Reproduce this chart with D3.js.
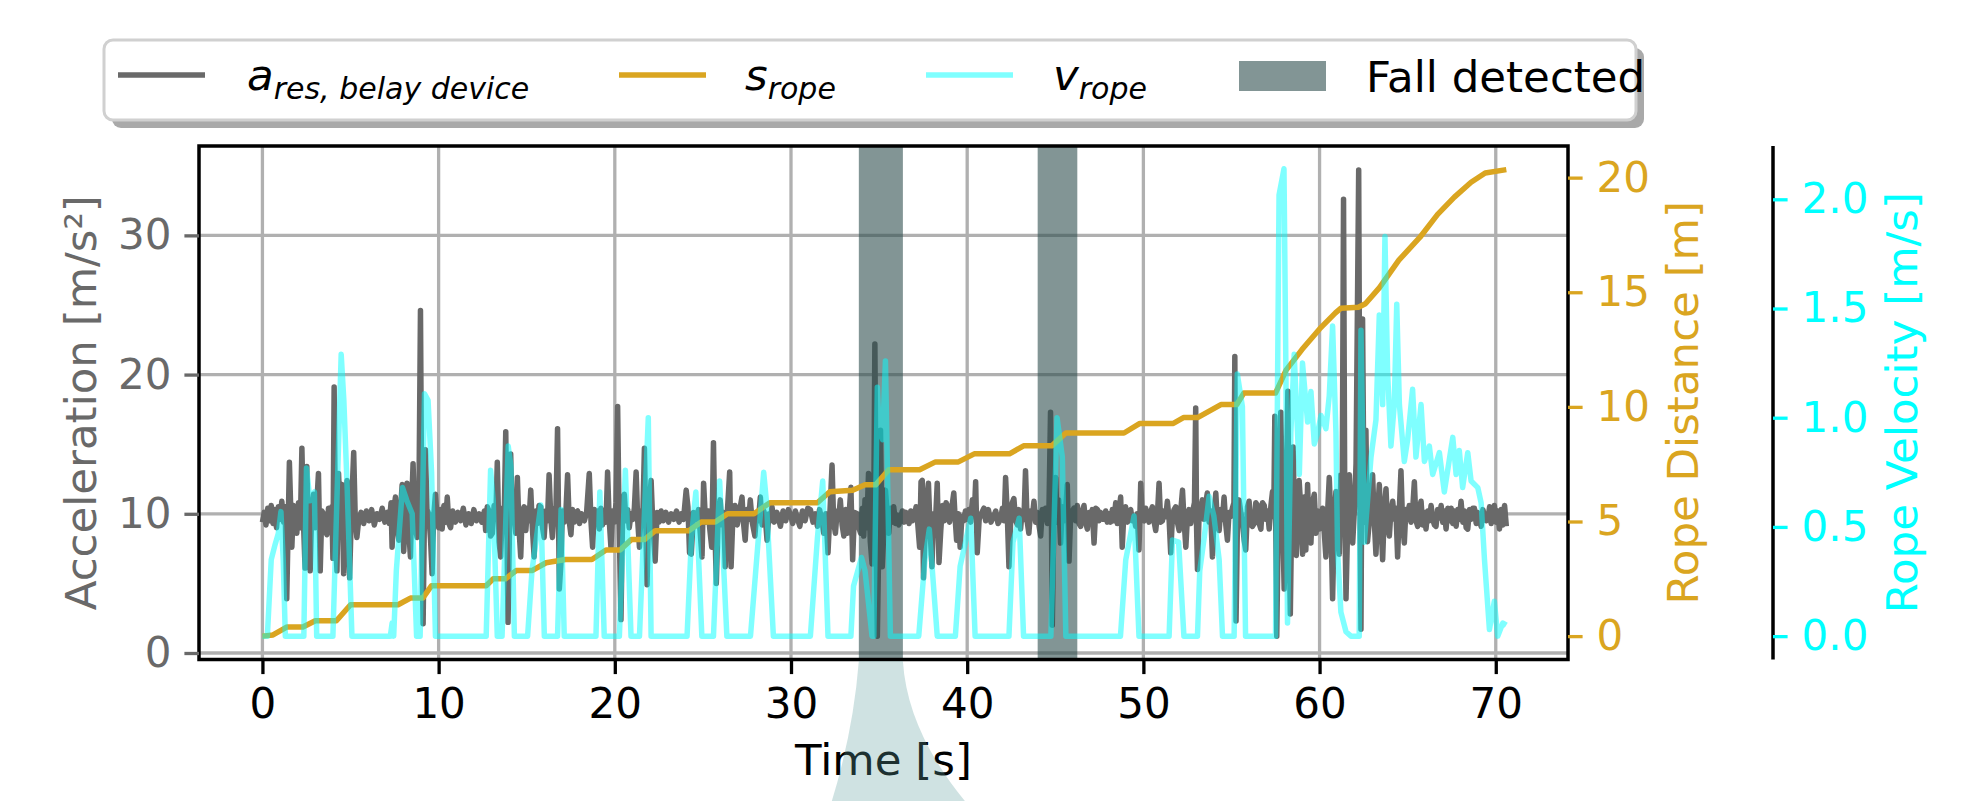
<!DOCTYPE html>
<html>
<head>
<meta charset="utf-8">
<script src="https://cdn.jsdelivr.net/npm/d3@7"></script>
<style>
  body { margin: 0; background: #fff; }
  svg { display: block; }
  text { font-family: "DejaVu Sans", sans-serif; }
</style>
</head>
<body>
<div id="chart"></div>
<script>
// tick labels
const timeTicks = [0, 10, 20, 30, 40, 50, 60, 70]
const accTicks = [0, 10, 20, 30]
const distTicks = [0, 5, 10, 15, 20]
const velTicks = [0, 0.5, 1.0, 1.5, 2.0]

// detected falls [start, end] in s
const fallWindows = [[33.85, 36.35], [44.0, 46.25]]

// resulting acceleration of the belay device [t, m/s²]
const accSeries = [
  [0,9.4],[0.1,10.1],[0.2,9.2],[0.3,10.4],[0.4,9.5],[0.5,10.6],[0.6,9.3],[0.7,10.3],[0.8,9.0],[0.9,10.5],[1.0,9.6],[1.1,10.9],[1.2,9.4],[1.29,10.5],
  [1.38,3.9],[1.53,13.7],[1.67,7.6],[1.76,10.6],[1.86,10.2],[1.95,8.6],[2.05,10.8],[2.15,9.0],[2.24,14.7],[2.33,9.4],[2.42,6.1],[2.52,13.4],[2.62,8.0],[2.71,5.9],[2.8,10.4],[2.9,11.4],[3.0,9.0],[3.08,10.6],[3.18,12.9],[3.28,5.9],[3.37,10.2],[3.47,10.0],[3.56,8.8],[3.66,8.5],[3.75,10.4],[3.84,9.6],[3.94,10.5],[4.0,6.8],[4.07,19.1],[4.15,8.0],[4.23,5.9],[4.32,12.9],[4.42,9.8],[4.51,12.1],[4.61,5.7],[4.7,10.4],[4.8,12.4],[4.88,8.8],[4.95,5.4],[5.05,10.2],[5.18,14.4],[5.27,9.6],[5.36,8.3],[5.46,9.5],
  [5.6,10.1],[5.75,9.3],[5.9,10.2],[6.05,9.5],[6.2,10.3],[6.35,9.2],[6.5,10.0],[6.65,9.6],[6.8,10.4],[6.95,9.4],[7.1,10.1],[7.2,9.3],
  [7.3,10.8],[7.36,7.6],[7.45,10.2],[7.55,11.2],[7.65,9.0],[7.74,8.1],[7.84,10.3],[7.93,12.1],[8.02,7.3],[8.12,10.0],[8.21,12.2],[8.3,8.9],[8.4,6.9],[8.48,11.0],[8.55,13.6],[8.65,9.2],[8.78,8.3],[8.88,10.6],[8.97,24.6],[9.05,8.0],[9.12,2.1],[9.19,9.5],[9.25,14.6],[9.34,10.3],[9.44,10.0],[9.54,8.2],[9.63,5.7],[9.72,9.8],[9.82,11.4],[9.92,9.6],[10.01,9.0],[10.1,10.3],[10.2,8.9],[10.3,10.6],[10.4,9.4],[10.49,11.2],[10.58,9.3],[10.68,9.0],[10.8,10.2],
  [10.95,9.4],[11.1,10.1],[11.25,9.5],[11.4,10.4],[11.55,9.2],[11.7,10.0],[11.85,9.3],[12.0,10.3],[12.15,9.5],[12.3,10.0],[12.45,9.4],[12.6,10.2],
  [12.67,8.8],[12.76,10.5],[12.86,10.2],[12.95,8.4],[13.05,8.6],[13.15,10.6],[13.25,9.8],[13.33,13.7],[13.43,8.0],[13.52,6.9],[13.62,10.4],[13.72,9.6],[13.81,15.9],[13.88,8.5],[13.94,2.2],[14.02,8.8],[14.09,14.3],[14.18,9.6],[14.28,10.0],[14.38,8.6],[14.47,12.6],[14.56,9.0],[14.66,6.9],[14.75,10.2],[14.85,10.5],[14.95,8.8],[15.04,10.4],[15.13,9.5],[15.23,11.7],[15.32,9.0],[15.42,6.9],[15.52,10.2],[15.61,9.3],[15.7,10.6],[15.8,10.5],[15.9,9.0],[15.99,8.3],[16.08,10.2],[16.18,9.5],[16.27,12.8],[16.37,9.6],[16.46,8.3],[16.56,10.4],[16.65,9.6],[16.75,16.1],[16.85,4.6],[16.94,6.4],[17.03,10.2],[17.13,9.4],[17.22,10.0],[17.32,12.8],[17.41,9.5],[17.51,8.5],[17.6,10.3],[17.7,9.4],[17.8,10.1],[17.89,10.2],[18.0,9.3],[18.1,10.0],[18.2,9.6],[18.27,9.5],[18.4,10.1],[18.55,12.9],[18.65,9.4],[18.74,7.6],[18.84,10.3],[18.93,9.8],[19.02,10.2],[19.12,8.9],[19.21,10.4],[19.3,9.2],[19.4,10.0],[19.5,9.4],[19.59,13.0],[19.68,9.6],[19.78,7.6],[19.88,10.2],[19.97,9.4],[20.07,10.8],[20.16,17.7],[20.25,9.0],[20.35,2.4],[20.44,9.8],[20.54,11.4],[20.63,9.5],[20.73,10.3],[20.82,9.0],[20.92,10.0],[21.02,9.6],[21.11,10.4],[21.21,13.0],[21.3,9.5],[21.4,7.6],[21.49,10.2],[21.59,9.8],[21.68,14.7],[21.76,9.0],[21.83,4.9],[21.92,10.0],[22.06,12.4],[22.15,9.5],[22.29,6.6],[22.4,10.1],[22.5,9.4],[22.63,10.2],[22.75,9.5],[22.9,10.1],[23.05,9.4],[23.2,10.0],[23.35,9.6],[23.5,10.2],[23.65,9.4],[23.77,10.0],[23.9,9.6],[24.05,11.7],[24.15,10.5],[24.24,7.2],[24.34,7.1],[24.47,10.1],
  [24.6,9.6],[24.75,10.3],[24.95,6.9],[25.04,12.2],[25.15,9.4],[25.3,10.2],[25.4,8.8],[25.5,7.6],[25.6,15.1],[25.68,9.0],[25.76,5.0],[25.87,9.8],[25.98,11.0],[26.08,9.2],[26.18,10.1],[26.27,6.2],[26.4,10.4],[26.52,13.0],[26.6,6.2],[26.7,9.8],[26.82,10.6],[26.95,9.2],[27.08,10.2],[27.22,11.2],[27.3,9.4],[27.4,8.1],[27.5,10.3],[27.6,9.6],[27.69,11.0],[27.8,9.4],[27.95,8.4],[28.05,10.1],[28.15,9.5],[28.26,11.2],[28.36,9.2],[28.46,10.2],[28.55,9.6],[28.64,8.1],[28.75,10.0],[28.84,9.5],[28.92,10.5],[29.05,9.4],[29.2,10.1],[29.4,9.1],[29.55,10.2],[29.7,9.5],[29.85,10.3],[29.96,10.0],[30.1,9.3],[30.25,10.2],[30.38,9.6],[30.5,9.1],[30.65,10.2],[30.8,9.5],[30.95,10.4],[31.1,10.3],[31.25,9.4],[31.38,10.0],[31.5,9.1],[31.62,10.3],[31.74,9.6],[31.86,8.6],[31.98,10.0],[32.1,7.2],[32.22,10.4],[32.33,13.5],[32.42,9.4],[32.52,8.6],[32.62,10.2],[32.7,9.6],[32.8,11.0],[32.9,9.2],[33.0,8.4],[33.1,10.3],[33.2,8.6],[33.3,10.0],[33.4,11.9],[33.5,6.7],[33.6,10.1],[33.75,10.0],[33.85,9.0],[33.95,8.6],[34.05,10.4],[34.13,8.4],[34.2,11.0],[34.3,9.0],[34.4,12.9],[34.5,8.0],[34.6,6.4],[34.7,10.5],[34.76,22.2],[34.84,8.0],[34.9,1.2],[35.0,9.5],[35.08,16.0],[35.18,6.2],[35.26,8.5],[35.36,11.7],[35.45,10.2],[35.55,8.6],[35.64,10.4],[35.73,9.4],[35.83,10.5],[35.93,9.3],[36.02,9.9],[36.12,9.2],[36.2,9.6],[36.32,10.2],[36.42,9.4],[36.52,10.1],[36.6,10.0],[36.7,9.3],[36.8,10.2],[36.9,9.5],[37.0,9.8],[37.1,10.5],[37.2,9.2],[37.3,7.6],[37.38,12.3],[37.45,12.4],[37.52,5.4],[37.6,8.1],[37.7,11.0],[37.8,12.2],[37.91,8.4],[38.0,6.2],[38.1,10.0],[38.2,9.4],[38.3,12.2],[38.4,6.5],[38.5,8.8],[38.6,10.6],[38.7,9.5],[38.8,10.8],[38.9,10.5],[39.0,9.4],[39.1,10.2],[39.24,11.5],[39.32,9.6],[39.4,8.1],[39.5,10.0],[39.6,7.6],[39.7,9.8],[39.8,9.5],[39.9,10.2],[40.0,9.6],[40.1,10.3],[40.2,9.4],[40.29,11.0],[40.4,9.8],[40.48,12.3],[40.57,7.2],[40.68,9.6],[40.8,10.0],[40.95,10.4],[41.05,9.5],[41.2,10.3],[41.35,9.4],[41.5,9.8],[41.62,10.2],[41.75,9.3],[41.89,9.6],[42.0,10.4],[42.1,9.5],[42.18,12.6],[42.28,9.8],[42.37,6.2],[42.47,9.6],[42.56,10.8],[42.65,11.1],[42.75,9.5],[42.85,9.2],[42.94,10.3],[43.03,8.9],[43.12,10.2],[43.22,9.6],[43.31,13.1],[43.4,9.5],[43.5,8.6],[43.6,10.2],[43.7,9.8],[43.79,10.9],[43.88,9.4],[43.98,10.1],[44.07,9.2],[44.17,8.4],[44.26,10.3],[44.36,9.6],[44.45,10.4],[44.55,9.3],[44.64,10.2],[44.73,17.3],[44.8,6.8],[44.83,2.0],[44.92,9.8],[45.02,12.6],[45.11,9.4],[45.2,11.0],[45.3,7.9],[45.4,10.5],[45.5,9.5],[45.6,10.4],[45.68,12.1],[45.78,6.6],[45.87,9.8],[45.97,10.2],[46.06,10.4],[46.16,9.5],[46.25,10.6],[46.35,9.3],[46.44,9.1],[46.54,10.2],[46.63,10.6],[46.72,9.4],[46.82,8.9],[46.92,10.1],[47.01,9.6],[47.1,10.3],[47.2,7.9],[47.3,10.4],[47.39,10.3],[47.48,9.5],[47.57,10.1],[47.67,9.6],[47.76,9.6],[47.86,10.2],[47.95,9.4],[48.05,10.0],[48.14,9.4],[48.24,10.3],[48.33,9.5],[48.43,10.8],[48.52,9.3],[48.62,10.2],[48.71,11.2],[48.8,7.6],[48.9,10.2],[48.99,10.5],[49.1,9.4],[49.2,10.2],[49.28,10.3],[49.37,9.5],[49.47,9.8],[49.56,9.1],[49.65,10.0],[49.75,7.4],[49.85,12.2],[49.94,9.6],[50.04,9.5],[50.13,10.4],[50.22,10.0],[50.32,9.4],[50.41,10.1],[50.51,10.5],[50.6,9.5],[50.7,8.8],[50.8,10.0],[50.89,12.2],[50.98,9.4],[51.08,9.5],[51.17,10.2],[51.27,9.8],[51.36,10.9],[51.46,9.6],[51.55,7.2],[51.65,9.8],[51.74,10.3],[51.84,10.5],[51.93,9.4],[52.03,8.8],[52.12,10.2],[52.22,11.7],[52.31,9.5],[52.41,7.6],[52.5,9.8],[52.59,10.3],[52.69,9.3],[52.8,10.2],[52.9,10.8],[52.97,17.6],[53.02,9.0],[53.07,6.0],[53.16,9.8],[53.25,10.4],[53.35,11.0],[53.44,9.6],[53.54,10.8],[53.63,11.5],[53.73,9.4],[53.82,10.2],[53.92,6.9],[54.01,9.8],[54.11,11.5],[54.2,9.4],[54.3,8.8],[54.39,10.3],[54.49,9.6],[54.58,11.2],[54.68,9.2],[54.77,8.1],[54.86,10.1],[54.96,9.8],[55.05,10.4],[55.14,10.8],[55.19,21.3],[55.23,9.0],[55.26,2.3],[55.34,9.6],[55.43,11.0],[55.53,10.1],[55.62,9.4],[55.72,8.1],[55.81,7.4],[55.91,10.5],[56.0,10.9],[56.1,9.2],[56.19,9.1],[56.29,9.3],[56.38,10.8],[56.48,10.6],[56.57,9.3],[56.67,8.9],[56.76,10.8],[56.86,10.6],[56.95,9.6],[57.05,10.2],[57.14,8.9],[57.24,10.6],[57.33,11.6],[57.4,9.8],[57.46,17.0],[57.52,8.0],[57.57,1.2],[57.66,9.6],[57.8,17.3],[57.9,10.0],[57.99,4.6],[58.09,9.2],[58.2,18.8],[58.27,8.6],[58.34,2.8],[58.42,10.2],[58.5,14.8],[58.6,8.0],[58.68,7.0],[58.75,9.4],[58.84,12.4],[58.94,10.3],[59.04,7.1],[59.13,11.2],[59.22,7.4],[59.32,12.1],[59.42,8.2],[59.51,7.9],[59.6,10.8],[59.7,11.4],[59.8,8.6],[59.89,10.2],[59.98,8.9],[60.08,9.8],[60.17,10.4],[60.27,8.6],[60.36,6.9],[60.46,10.2],[60.55,12.6],[60.64,9.6],[60.74,3.9],[60.84,10.0],[60.93,11.6],[61.02,9.5],[61.12,7.1],[61.21,12.8],[61.28,10.0],[61.36,32.6],[61.43,10.4],[61.5,3.9],[61.6,9.5],[61.69,12.8],[61.79,9.6],[61.88,7.9],[61.98,10.4],[62.07,13.6],[62.22,34.7],[62.3,9.0],[62.35,1.7],[62.44,24.0],[62.53,9.4],[62.63,16.0],[62.72,8.0],[62.82,9.4],[62.92,10.6],[63.01,12.8],[63.1,9.6],[63.2,7.1],[63.3,10.2],[63.39,12.1],[63.48,9.4],[63.58,6.7],[63.68,10.4],[63.77,11.8],[63.86,9.2],[63.96,8.4],[64.05,10.2],[64.15,10.9],[64.24,9.6],[64.33,10.4],[64.43,6.9],[64.52,10.1],[64.62,13.1],[64.71,9.4],[64.81,7.9],[64.9,10.3],[65.0,9.6],[65.09,10.6],[65.19,9.4],[65.28,10.2],[65.38,12.3],[65.47,9.5],[65.57,9.1],[65.66,10.4],[65.76,10.9],[65.85,9.2],[65.95,10.1],[66.04,8.9],[66.14,10.2],[66.23,9.5],[66.33,10.6],[66.42,9.6],[66.52,9.2],[66.61,9.1],[66.7,10.3],[66.8,9.7],[66.9,10.6],[66.99,9.4],[67.08,10.2],[67.18,8.9],[67.28,10.4],[67.37,9.5],[67.47,10.4],[67.56,9.3],[67.66,10.2],[67.75,9.1],[67.85,10.3],[67.94,9.6],[68.03,10.9],[68.13,9.4],[68.22,10.2],[68.32,9.0],[68.41,8.9],[68.51,10.3],[68.6,9.6],[68.7,10.4],[68.79,10.4],[68.89,9.3],[68.98,10.1],[69.08,9.6],[69.17,9.1],[69.27,10.3],[69.36,9.8],[69.46,9.5],[69.55,9.6],[69.65,10.5],[69.74,9.3],[69.84,10.1],[69.92,10.6],[70.02,9.4],[70.11,10.2],[70.21,8.9],[70.3,10.3],[70.4,9.2],[70.5,10.6],[70.6,9.1]
]

// rope distance [t, m]
const ropeDistSeries = [
  [0,0],[0.6,0.05],[1.4,0.4],[2.3,0.4],[3.0,0.67],[4.2,0.67],[5.0,1.37],[7.7,1.37],[8.4,1.66],[9.1,1.66],[9.6,2.2],
  [12.7,2.2],[13.1,2.5],[13.8,2.5],[14.4,2.86],[15.3,2.86],[16.1,3.2],[17.2,3.34],[18.7,3.34],[19.5,3.76],[20.3,3.76],
  [20.95,4.22],[21.7,4.22],[22.3,4.6],[24.2,4.6],[24.9,4.98],[25.7,4.98],[26.4,5.34],[27.9,5.34],[28.8,5.82],[31.5,5.82],
  [32.2,6.3],[33.5,6.36],[34.2,6.6],[34.8,6.6],[35.55,7.26],[37.3,7.26],[38.2,7.6],[39.5,7.6],[40.4,7.95],[42.4,7.95],
  [43.2,8.3],[44.8,8.3],[45.6,8.86],[48.9,8.86],[49.8,9.28],[51.7,9.28],[52.3,9.54],[53.1,9.54],[54.4,10.1],[55.3,10.1],
  [55.7,10.6],[57.5,10.6],[58.1,11.6],[59.0,12.5],[60.0,13.4],[60.9,14.1],[61.2,14.3],[62.2,14.35],[62.6,14.5],[63.4,15.2],
  [64.5,16.4],[65.7,17.4],[66.7,18.4],[67.65,19.15],[68.6,19.8],[69.4,20.2],[70.6,20.35]
]

// rope velocity [t, m/s]
const ropeVelSeries = [
  [0,0],[0.28,0],[0.5,0.35],[0.72,0.42],[0.9,0.47],[1.05,0.57],[1.18,0.35],[1.3,0],
  [2.35,0],[2.5,0.77],[2.7,0.62],[2.95,0.66],[3.08,0],
  [4.0,0],[4.2,0.55],[4.47,1.29],[4.62,1.08],[4.8,0.7],[5.08,0],
  [7.26,0],[7.36,0.06],[7.45,0],[7.6,0.3],[7.95,0.68],[8.2,0.62],[8.5,0.56],[8.75,0],
  [8.95,0],[9.2,1.11],[9.4,1.08],[9.6,0.75],[9.82,0],
  [12.7,0],[12.95,0.76],[13.1,0.62],[13.33,0],
  [13.6,0],[13.95,0.87],[14.1,0.78],[14.3,0],
  [15.05,0],[15.3,0.3],[15.55,0.45],[15.8,0.6],[16.0,0],
  [16.75,0],[16.95,0.58],[17.13,0],
  [18.93,0],[19.15,0.66],[19.4,0],
  [20.26,0],[20.6,0.76],[20.92,0],
  [21.4,0],[21.9,1.0],[22.06,0],
  [24.1,0],[24.35,0.45],[24.6,0.66],[24.94,0],
  [25.6,0],[25.95,0.71],[26.36,0],
  [27.7,0],[28.1,0.4],[28.45,0.75],[28.6,0.62],[29.0,0],
  [31.1,0],[31.5,0.45],[31.8,0.71],[32.1,0],
  [33.4,0],[33.55,0.23],[34.0,0.36],[34.2,0.3],[34.6,0],
  [34.7,0],[34.9,1.14],[35.0,0.95],[35.2,0.9],[35.36,1.26],[35.64,0],
  [37.25,0],[37.6,0.35],[37.85,0.49],[38.3,0],
  [39.33,0],[39.6,0.32],[40.2,0.54],[40.45,0],
  [42.37,0],[42.6,0.43],[42.95,0.54],[43.2,0],
  [44.75,0],[45.1,1.0],[45.4,0.82],[45.6,0],
  [48.7,0],[49.0,0.35],[49.47,0.55],[49.75,0],
  [51.46,0],[51.65,0.44],[52.0,0.43],[52.3,0],
  [53.07,0],[53.2,0.3],[53.45,0.45],[53.73,0.64],[54.0,0.55],[54.3,0.35],[54.49,0],
  [55.15,0],[55.33,1.2],[55.62,1.05],[55.8,0],
  [57.5,0],[57.7,2.02],[57.98,2.14],[58.09,1.21],[58.18,0.06],[58.37,0.93],[58.56,1.29],[58.85,0.74],[59.03,1.25],[59.32,0.98],
  [59.51,1.12],[59.7,0.88],[59.89,0.93],[60.08,1.01],[60.36,0.95],[60.55,1.1],[60.74,1.42],[60.93,0.93],[61.02,0.39],[61.21,0.11],
  [61.5,0.02],[61.78,0],[62.25,0],[62.35,1.4],[62.54,0.43],[62.92,0.82],[63.2,0.99],[63.39,1.47],[63.58,1.06],[63.71,1.83],
  [63.86,1.21],[64.05,0.87],[64.24,1.06],[64.38,1.52],[64.53,1.06],[64.81,0.8],[65.0,0.9],[65.28,1.13],[65.47,0.82],[65.76,1.06],
  [65.95,0.8],[66.23,0.87],[66.42,0.74],[66.8,0.84],[67.08,0.66],[67.56,0.91],[67.75,0.74],[67.93,0.85],[68.12,0.68],[68.41,0.84],
  [68.6,0.71],[68.98,0.68],[69.17,0.61],[69.36,0.35],[69.64,0.03],[69.92,0.16],[70.11,0],[70.4,0.06],[70.6,0.05]
]

// colours
const accColor = "#696969"     // dimgray
const distColor = "#daa520"    // goldenrod
const velColor = "#00ffff"     // cyan
const fallColor = "#2f4f4f"    // darkslategray

const W = 1978, H = 801
const box = { left: 199, right: 1568, top: 146, bottom: 659.5 }
const velSpineX = 1773
const tickLen = 14.6, tickW = 3.3
const tickFont = 42, labelFont = 43.5

const svg = d3.select("#chart")
  .append("svg")
  .attr("width", W)
  .attr("height", H)

svg.append("rect").attr("width", W).attr("height", H).attr("fill", "#fff")

// scales
const x = d3.scaleLinear().domain([-3.6, 74.1]).range([box.left, box.right])
const yAcc = d3.scaleLinear().domain([-0.467, 36.42]).range([box.bottom, box.top])
const yDist = d3.scaleLinear().domain([-1.02, 21.38]).range([box.bottom, box.top])
const yVel = d3.scaleLinear().domain([-0.107, 2.244]).range([box.bottom, box.top])

svg.append("clipPath").attr("id", "plotClip")
  .append("rect")
  .attr("x", box.left).attr("y", box.top)
  .attr("width", box.right - box.left).attr("height", box.bottom - box.top)

// grid
const grid = svg.append("g").attr("stroke", "#b0b0b0").attr("stroke-width", 3.3)
grid.selectAll(".gx").data(timeTicks).enter().append("line")
  .attr("x1", d => x(d)).attr("x2", d => x(d))
  .attr("y1", box.top).attr("y2", box.bottom)
grid.selectAll(".gy").data(accTicks).enter().append("line")
  .attr("x1", box.left).attr("x2", box.right)
  .attr("y1", d => yAcc(d)).attr("y2", d => yAcc(d))

const plot = svg.append("g").attr("clip-path", "url(#plotClip)")

// acceleration
plot.append("path")
  .datum(accSeries)
  .attr("fill", "none")
  .attr("stroke", accColor)
  .attr("stroke-width", 5.5)
  .attr("stroke-linejoin", "round")
  .attr("d", d3.line().x(d => x(d[0])).y(d => yAcc(d[1])))

// fall windows
plot.selectAll(".fall").data(fallWindows).enter().append("rect")
  .attr("x", d => x(d[0]))
  .attr("width", d => x(d[1]) - x(d[0]))
  .attr("y", box.top)
  .attr("height", box.bottom - box.top)
  .attr("fill", fallColor)
  .attr("fill-opacity", 0.6)

// rope distance
plot.append("path")
  .datum(ropeDistSeries)
  .attr("fill", "none")
  .attr("stroke", distColor)
  .attr("stroke-width", 5.5)
  .attr("stroke-linejoin", "round")
  .attr("d", d3.line().x(d => x(d[0])).y(d => yDist(d[1])))

// rope velocity
plot.append("path")
  .datum(ropeVelSeries)
  .attr("fill", "none")
  .attr("stroke", velColor)
  .attr("stroke-opacity", 0.5)
  .attr("stroke-width", 5.5)
  .attr("stroke-linejoin", "round")
  .attr("d", d3.line().x(d => x(d[0])).y(d => yVel(d[1])))

// frame
svg.append("rect")
  .attr("x", box.left).attr("y", box.top)
  .attr("width", box.right - box.left).attr("height", box.bottom - box.top)
  .attr("fill", "none").attr("stroke", "#000").attr("stroke-width", 3.5)

svg.append("line")
  .attr("x1", velSpineX).attr("x2", velSpineX)
  .attr("y1", box.top).attr("y2", box.bottom)
  .attr("stroke", "#000").attr("stroke-width", 3.5)

// axes
const styleAxis = (g, color) => {
  g.select(".domain").remove()
  g.attr("font-family", "DejaVu Sans").attr("font-size", tickFont)
  g.selectAll(".tick line").attr("stroke", color).attr("stroke-width", tickW)
  g.selectAll(".tick text").attr("fill", color)
}

svg.append("g")
  .attr("transform", `translate(0, ${box.bottom})`)
  .call(d3.axisBottom(x).tickValues(timeTicks).tickSize(tickLen).tickPadding(14))
  .call(g => styleAxis(g, "#000"))

svg.append("g")
  .attr("transform", `translate(${box.left}, 0)`)
  .call(d3.axisLeft(yAcc).tickValues(accTicks).tickSize(tickLen).tickPadding(13))
  .call(g => styleAxis(g, accColor))

svg.append("g")
  .attr("transform", `translate(${box.right}, 0)`)
  .call(d3.axisRight(yDist).tickValues(distTicks).tickSize(tickLen).tickPadding(14))
  .call(g => styleAxis(g, distColor))

svg.append("g")
  .attr("transform", `translate(${velSpineX}, 0)`)
  .call(d3.axisRight(yVel).tickValues(velTicks).tickSize(tickLen).tickPadding(14).tickFormat(d3.format(".1f")))
  .call(g => styleAxis(g, velColor))

// axis labels
const midY = (box.top + box.bottom) / 2
svg.append("text")
  .attr("transform", `translate(96, ${midY}) rotate(-90)`)
  .attr("text-anchor", "middle").attr("font-size", labelFont).attr("fill", accColor)
  .text("Acceleration [m/s²]")

svg.append("text")
  .attr("transform", `translate(1698, ${midY}) rotate(-90)`)
  .attr("text-anchor", "middle").attr("font-size", labelFont).attr("fill", distColor)
  .text("Rope Distance [m]")

svg.append("text")
  .attr("transform", `translate(1917, ${midY}) rotate(-90)`)
  .attr("text-anchor", "middle").attr("font-size", labelFont).attr("fill", velColor)
  .text("Rope Velocity [m/s]")

svg.append("text")
  .attr("x", (box.left + box.right) / 2).attr("y", 775)
  .attr("text-anchor", "middle").attr("font-size", labelFont).attr("fill", "#000")
  .text("Time [s]")

// legend
const legend = svg.append("g")
legend.append("rect")
  .attr("x", 112).attr("y", 48).attr("width", 1532).attr("height", 80).attr("rx", 9)
  .attr("fill", "#a9a9a9")
legend.append("rect")
  .attr("x", 104).attr("y", 40).attr("width", 1532).attr("height", 80).attr("rx", 9)
  .attr("fill", "#fff").attr("stroke", "#d0d0d0").attr("stroke-width", 3)

const mathLabel = (xPos, main, sub) => {
  const t = legend.append("text")
    .attr("x", xPos).attr("y", 90)
    .attr("font-style", "italic").attr("fill", "#000")
  t.append("tspan").attr("font-size", labelFont).text(main)
  t.append("tspan").attr("font-size", 30).attr("dy", 9).text(sub)
}

legend.append("line").attr("x1", 118).attr("x2", 205).attr("y1", 75).attr("y2", 75)
  .attr("stroke", accColor).attr("stroke-width", 5.5)
mathLabel(247, "a", "res, belay device")

legend.append("line").attr("x1", 619).attr("x2", 706).attr("y1", 75).attr("y2", 75)
  .attr("stroke", distColor).attr("stroke-width", 5.5)
mathLabel(745, "s", "rope")

legend.append("line").attr("x1", 926).attr("x2", 1013).attr("y1", 75).attr("y2", 75)
  .attr("stroke", velColor).attr("stroke-opacity", 0.5).attr("stroke-width", 5.5)
mathLabel(1053, "v", "rope")

legend.append("rect").attr("x", 1239).attr("y", 61).attr("width", 87).attr("height", 30)
  .attr("fill", fallColor).attr("fill-opacity", 0.6)
legend.append("text").attr("x", 1366).attr("y", 92)
  .attr("font-size", labelFont).attr("fill", "#000")
  .text("Fall detected")

// zoom connector below the first detected fall
const x0 = x(fallWindows[0][0]), x1 = x(fallWindows[0][1])
svg.append("path")
  .attr("d", `M${x0},${box.bottom + 1.5} Q${x0 - 5.5},731 ${x0 - 27},${H} L${x1 + 62},${H} Q${x1 + 4.5},731 ${x1},${box.bottom + 1.5} Z`)
  .attr("fill", "#5f9ea0")
  .attr("fill-opacity", 0.3)
</script>
</body>
</html>
